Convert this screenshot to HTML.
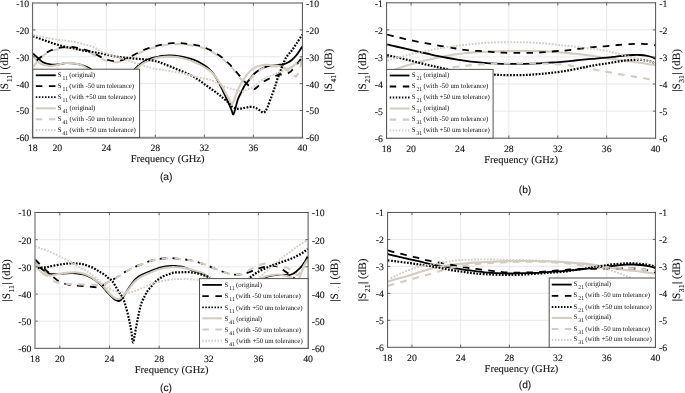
<!DOCTYPE html><html><head><meta charset="utf-8"><style>html,body{margin:0;padding:0;background:#fff;width:685px;height:393px;overflow:hidden}svg{display:block}text{font-family:"Liberation Serif",serif;fill:#111;text-rendering:geometricPrecision;stroke:#111;stroke-width:0.1px}svg{will-change:transform}.sans{font-family:"Liberation Sans",sans-serif}</style></head><body>
<svg width="685" height="393" viewBox="0 0 685 393">
<rect width="685" height="393" fill="#fff"/>
<line x1="57.31" y1="3.00" x2="57.31" y2="137.40" stroke="#e5e5e5" stroke-width="0.9"/>
<line x1="106.33" y1="3.00" x2="106.33" y2="137.40" stroke="#e5e5e5" stroke-width="0.9"/>
<line x1="155.35" y1="3.00" x2="155.35" y2="137.40" stroke="#e5e5e5" stroke-width="0.9"/>
<line x1="204.36" y1="3.00" x2="204.36" y2="137.40" stroke="#e5e5e5" stroke-width="0.9"/>
<line x1="253.38" y1="3.00" x2="253.38" y2="137.40" stroke="#e5e5e5" stroke-width="0.9"/>
<line x1="32.80" y1="110.52" x2="302.40" y2="110.52" stroke="#e5e5e5" stroke-width="0.9"/>
<line x1="32.80" y1="83.64" x2="302.40" y2="83.64" stroke="#e5e5e5" stroke-width="0.9"/>
<line x1="32.80" y1="56.76" x2="302.40" y2="56.76" stroke="#e5e5e5" stroke-width="0.9"/>
<line x1="32.80" y1="29.88" x2="302.40" y2="29.88" stroke="#e5e5e5" stroke-width="0.9"/>
<path d="M33.10,53.70 C33.95,54.47 36.50,56.85 38.20,58.30 C39.90,59.75 41.27,61.38 43.30,62.40 C45.33,63.42 48.02,64.07 50.40,64.40 C52.78,64.73 55.03,64.60 57.60,64.40 C60.17,64.20 63.25,63.37 65.80,63.20 C68.35,63.03 70.35,63.12 72.90,63.40 C75.45,63.68 78.55,64.22 81.10,64.90 C83.65,65.58 86.05,66.48 88.20,67.50 C90.35,68.52 90.03,69.42 94.00,71.00 C97.97,72.58 106.00,76.67 112.00,77.00 C118.00,77.33 126.07,74.45 130.00,73.00 C133.93,71.55 134.10,69.63 135.60,68.30 C137.10,66.97 137.52,66.18 139.00,65.00 C140.48,63.82 142.50,62.32 144.50,61.20 C146.50,60.08 149.07,58.97 151.00,58.30 C152.93,57.63 154.27,57.58 156.10,57.20 C157.93,56.82 159.87,56.28 162.00,56.00 C164.13,55.72 166.73,55.55 168.90,55.50 C171.07,55.45 172.85,55.52 175.00,55.70 C177.15,55.88 179.47,56.17 181.80,56.60 C184.13,57.03 186.60,57.62 189.00,58.30 C191.40,58.98 193.87,59.67 196.20,60.70 C198.53,61.73 200.87,63.15 203.00,64.50 C205.13,65.85 207.17,67.13 209.00,68.80 C210.83,70.47 212.33,72.13 214.00,74.50 C215.67,76.87 217.33,79.92 219.00,83.00 C220.67,86.08 222.42,89.67 224.00,93.00 C225.58,96.33 227.25,100.17 228.50,103.00 C229.75,105.83 230.70,108.08 231.50,110.00 C232.30,111.92 232.63,114.83 233.30,114.50 C233.97,114.17 234.72,110.58 235.50,108.00 C236.28,105.42 237.02,101.67 238.00,99.00 C238.98,96.33 240.23,94.33 241.40,92.00 C242.57,89.67 243.52,87.25 245.00,85.00 C246.48,82.75 248.80,80.33 250.30,78.50 C251.80,76.67 252.65,75.33 254.00,74.00 C255.35,72.67 256.90,71.50 258.40,70.50 C259.90,69.50 261.52,68.67 263.00,68.00 C264.48,67.33 265.92,66.93 267.30,66.50 C268.68,66.07 269.52,65.68 271.30,65.40 C273.08,65.12 276.05,64.95 278.00,64.80 C279.95,64.65 281.42,64.83 283.00,64.50 C284.58,64.17 286.03,63.55 287.50,62.80 C288.97,62.05 290.22,61.38 291.80,60.00 C293.38,58.62 295.25,56.75 297.00,54.50 C298.75,52.25 301.42,47.83 302.30,46.50" fill="none" stroke="#000" stroke-width="1.8"/>
<path d="M33.10,56.20 C33.67,56.83 35.32,58.80 36.50,60.00 C37.68,61.20 38.78,62.52 40.20,63.40 C41.62,64.28 43.30,64.87 45.00,65.30 C46.70,65.73 48.73,65.97 50.40,66.00 C52.07,66.03 53.28,65.85 55.00,65.50 C56.72,65.15 58.87,64.32 60.70,63.90 C62.53,63.48 64.30,63.17 66.00,63.00 C67.70,62.83 69.23,62.80 70.90,62.90 C72.57,63.00 74.32,63.25 76.00,63.60 C77.68,63.95 79.17,64.22 81.00,65.00 C82.83,65.78 84.83,67.13 87.00,68.30 C89.17,69.47 89.83,70.55 94.00,72.00 C98.17,73.45 106.00,76.83 112.00,77.00 C118.00,77.17 126.07,74.25 130.00,73.00 C133.93,71.75 134.10,70.58 135.60,69.50 C137.10,68.42 137.52,67.65 139.00,66.50 C140.48,65.35 142.10,63.85 144.50,62.60 C146.90,61.35 150.82,59.90 153.40,59.00 C155.98,58.10 157.30,57.60 160.00,57.20 C162.70,56.80 166.60,56.58 169.60,56.60 C172.60,56.62 175.32,56.90 178.00,57.30 C180.68,57.70 183.20,58.30 185.70,59.00 C188.20,59.70 190.57,60.52 193.00,61.50 C195.43,62.48 198.30,63.88 200.30,64.90 C202.30,65.92 203.38,66.60 205.00,67.60 C206.62,68.60 208.42,69.58 210.00,70.90 C211.58,72.22 213.03,73.77 214.50,75.50 C215.97,77.23 217.47,79.35 218.80,81.30 C220.13,83.25 221.28,85.08 222.50,87.20 C223.72,89.32 224.93,91.87 226.10,94.00 C227.27,96.13 228.55,98.25 229.50,100.00 C230.45,101.75 230.97,104.67 231.80,104.50 C232.63,104.33 233.63,101.08 234.50,99.00 C235.37,96.92 236.22,93.98 237.00,92.00 C237.78,90.02 238.28,88.93 239.20,87.10 C240.12,85.27 241.28,82.95 242.50,81.00 C243.72,79.05 245.25,77.03 246.50,75.40 C247.75,73.77 248.78,72.42 250.00,71.20 C251.22,69.98 252.30,68.97 253.80,68.10 C255.30,67.23 257.05,66.53 259.00,66.00 C260.95,65.47 262.97,65.03 265.50,64.90 C268.03,64.77 271.95,65.02 274.20,65.20 C276.45,65.38 277.53,65.63 279.00,66.00 C280.47,66.37 281.83,66.98 283.00,67.40 C284.17,67.82 285.03,68.30 286.00,68.50 C286.97,68.70 287.63,69.02 288.80,68.60 C289.97,68.18 291.53,67.05 293.00,66.00 C294.47,64.95 296.05,63.63 297.60,62.30 C299.15,60.97 301.52,58.72 302.30,58.00" fill="none" stroke="#d2cdc4" stroke-width="2.1"/>
<path d="M33.10,66.70 C34.00,65.55 36.58,61.82 38.50,59.80 C40.42,57.78 42.60,56.03 44.60,54.60 C46.60,53.17 48.32,52.10 50.50,51.20 C52.68,50.30 55.53,49.68 57.70,49.20 C59.87,48.72 61.55,48.52 63.50,48.30 C65.45,48.08 67.48,47.83 69.40,47.90 C71.32,47.97 73.05,48.35 75.00,48.70 C76.95,49.05 79.10,49.45 81.10,50.00 C83.10,50.55 85.05,51.28 87.00,52.00 C88.95,52.72 90.97,53.47 92.80,54.30 C94.63,55.13 96.30,56.15 98.00,57.00 C99.70,57.85 101.33,58.68 103.00,59.40 C104.67,60.12 106.00,60.82 108.00,61.30 C110.00,61.78 112.83,62.32 115.00,62.30 C117.17,62.28 119.17,61.67 121.00,61.20 C122.83,60.73 124.33,60.15 126.00,59.50 C127.67,58.85 129.33,58.08 131.00,57.30 C132.67,56.52 134.33,55.63 136.00,54.80 C137.67,53.97 139.33,53.07 141.00,52.30 C142.67,51.53 144.33,50.85 146.00,50.20 C147.67,49.55 149.42,48.88 151.00,48.40 C152.58,47.92 153.83,47.73 155.50,47.30 C157.17,46.87 159.13,46.22 161.00,45.80 C162.87,45.38 164.87,45.07 166.70,44.80 C168.53,44.53 170.05,44.32 172.00,44.20 C173.95,44.08 176.40,44.05 178.40,44.10 C180.40,44.15 182.07,44.33 184.00,44.50 C185.93,44.67 187.92,44.80 190.00,45.10 C192.08,45.40 194.30,45.82 196.50,46.30 C198.70,46.78 200.95,47.23 203.20,48.00 C205.45,48.77 207.80,49.80 210.00,50.90 C212.20,52.00 214.45,53.38 216.40,54.60 C218.35,55.82 220.10,56.97 221.70,58.20 C223.30,59.43 224.55,60.63 226.00,62.00 C227.45,63.37 228.90,64.82 230.40,66.40 C231.90,67.98 233.53,69.73 235.00,71.50 C236.47,73.27 237.95,75.50 239.20,77.00 C240.45,78.50 241.45,79.67 242.50,80.50 C243.55,81.33 244.50,81.83 245.50,82.00 C246.50,82.17 247.50,82.25 248.50,81.50 C249.50,80.75 250.13,79.08 251.50,77.50 C252.87,75.92 254.78,73.52 256.70,72.00 C258.62,70.48 260.57,69.33 263.00,68.40 C265.43,67.47 268.97,66.70 271.30,66.40 C273.63,66.10 275.05,66.35 277.00,66.60 C278.95,66.85 281.25,67.25 283.00,67.90 C284.75,68.55 286.03,69.48 287.50,70.50 C288.97,71.52 290.63,73.08 291.80,74.00 C292.97,74.92 293.72,75.67 294.50,76.00 C295.28,76.33 295.75,76.83 296.50,76.00 C297.25,75.17 298.28,72.83 299.00,71.00 C299.72,69.17 300.25,67.17 300.80,65.00 C301.35,62.83 302.05,59.17 302.30,58.00" fill="none" stroke="#d2cdc4" stroke-width="2.1" stroke-dasharray="6.6,6.2" stroke-dashoffset="0.00"/>
<path d="M33.10,63.40 C33.95,62.72 36.28,60.87 38.20,59.30 C40.12,57.73 42.55,55.47 44.60,54.00 C46.65,52.53 48.32,51.47 50.50,50.50 C52.68,49.53 55.50,48.73 57.70,48.20 C59.90,47.67 61.75,47.52 63.70,47.30 C65.65,47.08 67.52,46.90 69.40,46.90 C71.28,46.90 73.05,47.03 75.00,47.30 C76.95,47.57 79.10,47.98 81.10,48.50 C83.10,49.02 85.05,49.68 87.00,50.40 C88.95,51.12 90.97,51.95 92.80,52.80 C94.63,53.65 96.30,54.63 98.00,55.50 C99.70,56.37 101.33,57.25 103.00,58.00 C104.67,58.75 106.00,59.47 108.00,60.00 C110.00,60.53 112.83,61.12 115.00,61.20 C117.17,61.28 119.17,60.95 121.00,60.50 C122.83,60.05 124.33,59.20 126.00,58.50 C127.67,57.80 129.33,57.08 131.00,56.30 C132.67,55.52 134.33,54.63 136.00,53.80 C137.67,52.97 139.33,52.07 141.00,51.30 C142.67,50.53 144.33,49.85 146.00,49.20 C147.67,48.55 149.42,47.88 151.00,47.40 C152.58,46.92 153.83,46.73 155.50,46.30 C157.17,45.87 159.13,45.22 161.00,44.80 C162.87,44.38 164.87,44.07 166.70,43.80 C168.53,43.53 170.05,43.32 172.00,43.20 C173.95,43.08 176.40,43.05 178.40,43.10 C180.40,43.15 182.07,43.33 184.00,43.50 C185.93,43.67 187.92,43.80 190.00,44.10 C192.08,44.40 194.30,44.82 196.50,45.30 C198.70,45.78 200.95,46.23 203.20,47.00 C205.45,47.77 207.80,48.80 210.00,49.90 C212.20,51.00 214.45,52.38 216.40,53.60 C218.35,54.82 220.10,55.97 221.70,57.20 C223.30,58.43 224.55,59.67 226.00,61.00 C227.45,62.33 228.90,63.65 230.40,65.20 C231.90,66.75 233.53,68.60 235.00,70.30 C236.47,72.00 237.87,73.82 239.20,75.40 C240.53,76.98 241.78,78.45 243.00,79.80 C244.22,81.15 245.33,82.33 246.50,83.50 C247.67,84.67 248.78,85.83 250.00,86.80 C251.22,87.77 252.63,89.23 253.80,89.30 C254.97,89.37 255.78,88.17 257.00,87.20 C258.22,86.23 259.60,84.67 261.10,83.50 C262.60,82.33 264.30,81.18 266.00,80.20 C267.70,79.22 269.63,78.37 271.30,77.60 C272.97,76.83 274.53,76.08 276.00,75.60 C277.47,75.12 278.45,74.97 280.10,74.70 C281.75,74.43 284.42,74.32 285.90,74.00 C287.38,73.68 288.02,73.38 289.00,72.80 C289.98,72.22 290.63,71.72 291.80,70.50 C292.97,69.28 294.55,67.35 296.00,65.50 C297.45,63.65 299.45,60.98 300.50,59.40 C301.55,57.82 302.00,56.57 302.30,56.00" fill="none" stroke="#000" stroke-width="1.8" stroke-dasharray="6.6,6.2" stroke-dashoffset="8.10"/>
<path d="M33.00,36.10 C33.92,36.43 36.57,37.38 38.50,38.10 C40.43,38.82 42.52,39.65 44.60,40.40 C46.68,41.15 48.82,41.87 51.00,42.60 C53.18,43.33 55.28,44.10 57.70,44.80 C60.12,45.50 62.82,46.18 65.50,46.80 C68.18,47.42 71.22,47.97 73.80,48.50 C76.38,49.03 78.57,49.52 81.00,50.00 C83.43,50.48 85.98,50.98 88.40,51.40 C90.82,51.82 93.57,52.20 95.50,52.50 C97.43,52.80 97.77,52.77 100.00,53.20 C102.23,53.63 105.93,54.48 108.90,55.10 C111.87,55.72 114.83,56.45 117.80,56.90 C120.77,57.35 123.73,57.50 126.70,57.80 C129.67,58.10 132.63,58.43 135.60,58.70 C138.57,58.97 141.53,59.07 144.50,59.40 C147.47,59.73 151.02,60.27 153.40,60.70 C155.78,61.13 157.07,61.45 158.80,62.00 C160.53,62.55 161.77,63.20 163.80,64.00 C165.83,64.80 168.57,65.83 171.00,66.80 C173.43,67.77 175.90,68.77 178.40,69.80 C180.90,70.83 183.57,71.88 186.00,73.00 C188.43,74.12 190.67,75.20 193.00,76.50 C195.33,77.80 197.78,79.30 200.00,80.80 C202.22,82.30 204.30,84.05 206.30,85.50 C208.30,86.95 210.05,88.12 212.00,89.50 C213.95,90.88 216.17,92.38 218.00,93.80 C219.83,95.22 221.30,96.55 223.00,98.00 C224.70,99.45 226.60,101.00 228.20,102.50 C229.80,104.00 230.90,105.95 232.60,107.00 C234.30,108.05 236.50,108.63 238.40,108.80 C240.30,108.97 242.07,108.32 244.00,108.00 C245.93,107.68 248.33,107.02 250.00,106.90 C251.67,106.78 252.77,106.98 254.00,107.30 C255.23,107.62 256.32,108.18 257.40,108.80 C258.48,109.42 259.53,110.35 260.50,111.00 C261.47,111.65 262.37,112.70 263.20,112.70 C264.03,112.70 264.77,111.97 265.50,111.00 C266.23,110.03 266.85,108.65 267.60,106.90 C268.35,105.15 269.27,102.45 270.00,100.50 C270.73,98.55 271.33,97.03 272.00,95.20 C272.67,93.37 273.40,91.20 274.00,89.50 C274.60,87.80 275.07,86.62 275.60,85.00 C276.13,83.38 276.55,81.72 277.20,79.80 C277.85,77.88 278.78,75.45 279.50,73.50 C280.22,71.55 280.83,69.85 281.50,68.10 C282.17,66.35 282.77,64.70 283.50,63.00 C284.23,61.30 285.02,59.40 285.90,57.90 C286.78,56.40 287.82,55.23 288.80,54.00 C289.78,52.77 290.52,52.25 291.80,50.50 C293.08,48.75 294.75,46.15 296.50,43.50 C298.25,40.85 301.33,36.08 302.30,34.60" fill="none" stroke="#000" stroke-width="2.2" stroke-dasharray="1.75,1.45"/>
<path d="M33.00,35.30 C34.17,35.50 37.67,36.05 40.00,36.50 C42.33,36.95 44.05,37.47 47.00,38.00 C49.95,38.53 54.53,39.25 57.70,39.70 C60.87,40.15 63.32,40.33 66.00,40.70 C68.68,41.07 71.30,41.43 73.80,41.90 C76.30,42.37 78.57,42.90 81.00,43.50 C83.43,44.10 86.07,44.78 88.40,45.50 C90.73,46.22 93.07,46.87 95.00,47.80 C96.93,48.73 97.68,49.95 100.00,51.10 C102.32,52.25 105.93,53.65 108.90,54.70 C111.87,55.75 114.83,56.52 117.80,57.40 C120.77,58.28 123.73,59.03 126.70,60.00 C129.67,60.97 132.63,62.23 135.60,63.20 C138.57,64.17 141.53,64.92 144.50,65.80 C147.47,66.68 150.18,67.80 153.40,68.50 C156.62,69.20 160.87,69.53 163.80,70.00 C166.73,70.47 168.57,70.87 171.00,71.30 C173.43,71.73 175.90,72.10 178.40,72.60 C180.90,73.10 183.57,73.70 186.00,74.30 C188.43,74.90 190.50,75.58 193.00,76.20 C195.50,76.82 198.17,77.40 201.00,78.00 C203.83,78.60 207.50,79.05 210.00,79.80 C212.50,80.55 214.05,81.52 216.00,82.50 C217.95,83.48 219.78,84.83 221.70,85.70 C223.62,86.57 225.55,87.10 227.50,87.70 C229.45,88.30 231.82,88.83 233.40,89.30 C234.98,89.77 235.90,90.17 237.00,90.50 C238.10,90.83 239.00,91.15 240.00,91.30 C241.00,91.45 242.00,91.62 243.00,91.40 C244.00,91.18 244.83,90.52 246.00,90.00 C247.17,89.48 248.67,88.88 250.00,88.30 C251.33,87.72 252.63,87.47 254.00,86.50 C255.37,85.53 256.70,83.67 258.20,82.50 C259.70,81.33 261.30,80.43 263.00,79.50 C264.70,78.57 266.65,77.72 268.40,76.90 C270.15,76.08 271.80,75.33 273.50,74.60 C275.20,73.87 276.93,73.15 278.60,72.50 C280.27,71.85 281.80,71.30 283.50,70.70 C285.20,70.10 287.22,69.60 288.80,68.90 C290.38,68.20 291.53,67.38 293.00,66.50 C294.47,65.62 296.05,64.55 297.60,63.60 C299.15,62.65 301.52,61.27 302.30,60.80" fill="none" stroke="#d2cdc4" stroke-width="1.9" stroke-dasharray="1.75,1.45"/>
<line x1="57.31" y1="137.40" x2="57.31" y2="134.70" stroke="#555" stroke-width="0.9"/>
<line x1="57.31" y1="3.00" x2="57.31" y2="5.70" stroke="#555" stroke-width="0.9"/>
<line x1="106.33" y1="137.40" x2="106.33" y2="134.70" stroke="#555" stroke-width="0.9"/>
<line x1="106.33" y1="3.00" x2="106.33" y2="5.70" stroke="#555" stroke-width="0.9"/>
<line x1="155.35" y1="137.40" x2="155.35" y2="134.70" stroke="#555" stroke-width="0.9"/>
<line x1="155.35" y1="3.00" x2="155.35" y2="5.70" stroke="#555" stroke-width="0.9"/>
<line x1="204.36" y1="137.40" x2="204.36" y2="134.70" stroke="#555" stroke-width="0.9"/>
<line x1="204.36" y1="3.00" x2="204.36" y2="5.70" stroke="#555" stroke-width="0.9"/>
<line x1="253.38" y1="137.40" x2="253.38" y2="134.70" stroke="#555" stroke-width="0.9"/>
<line x1="253.38" y1="3.00" x2="253.38" y2="5.70" stroke="#555" stroke-width="0.9"/>
<line x1="32.80" y1="110.52" x2="35.50" y2="110.52" stroke="#555" stroke-width="0.9"/>
<line x1="302.40" y1="110.52" x2="299.70" y2="110.52" stroke="#555" stroke-width="0.9"/>
<line x1="32.80" y1="83.64" x2="35.50" y2="83.64" stroke="#555" stroke-width="0.9"/>
<line x1="302.40" y1="83.64" x2="299.70" y2="83.64" stroke="#555" stroke-width="0.9"/>
<line x1="32.80" y1="56.76" x2="35.50" y2="56.76" stroke="#555" stroke-width="0.9"/>
<line x1="302.40" y1="56.76" x2="299.70" y2="56.76" stroke="#555" stroke-width="0.9"/>
<line x1="32.80" y1="29.88" x2="35.50" y2="29.88" stroke="#555" stroke-width="0.9"/>
<line x1="302.40" y1="29.88" x2="299.70" y2="29.88" stroke="#555" stroke-width="0.9"/>
<line x1="32.80" y1="3.00" x2="302.40" y2="3.00" stroke="#505050" stroke-width="1.00" stroke-linecap="square"/>
<line x1="32.80" y1="137.75" x2="302.40" y2="137.75" stroke="#8c8c8c" stroke-width="1.80" stroke-linecap="square"/>
<line x1="32.55" y1="3.00" x2="32.55" y2="137.40" stroke="#6a6a6a" stroke-width="1.20" stroke-linecap="square"/>
<line x1="302.40" y1="3.00" x2="302.40" y2="137.40" stroke="#505050" stroke-width="1.00" stroke-linecap="square"/>
<text x="32.80" y="151.10" font-size="9.8" text-anchor="middle">18</text>
<text x="57.31" y="151.10" font-size="9.8" text-anchor="middle">20</text>
<text x="106.33" y="151.10" font-size="9.8" text-anchor="middle">24</text>
<text x="155.35" y="151.10" font-size="9.8" text-anchor="middle">28</text>
<text x="204.36" y="151.10" font-size="9.8" text-anchor="middle">32</text>
<text x="253.38" y="151.10" font-size="9.8" text-anchor="middle">36</text>
<text x="302.40" y="151.10" font-size="9.8" text-anchor="middle">40</text>
<text x="29.20" y="141.30" font-size="9.8" text-anchor="end">-60</text>
<text x="306.00" y="141.30" font-size="9.8" text-anchor="start">-60</text>
<text x="29.20" y="114.42" font-size="9.8" text-anchor="end">-50</text>
<text x="306.00" y="114.42" font-size="9.8" text-anchor="start">-50</text>
<text x="29.20" y="87.54" font-size="9.8" text-anchor="end">-40</text>
<text x="306.00" y="87.54" font-size="9.8" text-anchor="start">-40</text>
<text x="29.20" y="60.66" font-size="9.8" text-anchor="end">-30</text>
<text x="306.00" y="60.66" font-size="9.8" text-anchor="start">-30</text>
<text x="29.20" y="33.78" font-size="9.8" text-anchor="end">-20</text>
<text x="306.00" y="33.78" font-size="9.8" text-anchor="start">-20</text>
<text x="29.20" y="6.90" font-size="9.8" text-anchor="end">-10</text>
<text x="306.00" y="6.90" font-size="9.8" text-anchor="start">-10</text>
<text x="167.60" y="162.20" font-size="10.5" text-anchor="middle">Frequency (GHz)</text>
<text transform="translate(8.20,70.20) rotate(-90)" font-size="11.2" text-anchor="middle">|S<tspan font-size="7.6" dy="4.0" dx="0.6">11</tspan><tspan dy="-4.0" dx="0.5">| (dB)</tspan></text>
<text transform="translate(331.60,70.20) rotate(-90)" font-size="11.2" text-anchor="middle">|S<tspan font-size="7.6" dy="4.0" dx="0.6">41</tspan><tspan dy="-4.0" dx="0.5">| (dB)</tspan></text>
<rect x="32.80" y="69.20" width="106.80" height="68.20" fill="#fff" stroke="#505050" stroke-width="1"/>
<line x1="35.80" y1="75.30" x2="55.80" y2="75.30" stroke="#000" stroke-width="1.8"/>
<text x="57.80" y="76.80" font-size="6.85" style="stroke:none">S<tspan font-size="5.7" dy="3.0" dx="0.9">11</tspan><tspan dy="-3.0" dx="1.3">(original)</tspan></text>
<line x1="35.80" y1="86.20" x2="55.80" y2="86.20" stroke="#000" stroke-width="1.8" stroke-dasharray="6.5,6.6"/>
<text x="57.80" y="87.70" font-size="6.85" style="stroke:none">S<tspan font-size="5.7" dy="3.0" dx="0.9">11</tspan><tspan dy="-3.0" dx="1.3">(with -50 um tolerance)</tspan></text>
<line x1="35.80" y1="97.20" x2="55.80" y2="97.20" stroke="#000" stroke-width="1.8" stroke-dasharray="1.5,1.55"/>
<text x="57.80" y="98.70" font-size="6.85" style="stroke:none">S<tspan font-size="5.7" dy="3.0" dx="0.9">11</tspan><tspan dy="-3.0" dx="1.3">(with +50 um tolerance)</tspan></text>
<line x1="35.80" y1="108.30" x2="55.80" y2="108.30" stroke="#d2cdc4" stroke-width="2.1"/>
<text x="57.80" y="109.80" font-size="6.85" style="stroke:none">S<tspan font-size="5.7" dy="3.0" dx="0.9">41</tspan><tspan dy="-3.0" dx="1.3">(original)</tspan></text>
<line x1="35.80" y1="119.20" x2="55.80" y2="119.20" stroke="#d2cdc4" stroke-width="2.1" stroke-dasharray="6.5,6.6"/>
<text x="57.80" y="120.70" font-size="6.85" style="stroke:none">S<tspan font-size="5.7" dy="3.0" dx="0.9">41</tspan><tspan dy="-3.0" dx="1.3">(with -50 um tolerance)</tspan></text>
<line x1="35.80" y1="130.10" x2="55.80" y2="130.10" stroke="#d2cdc4" stroke-width="2.1" stroke-dasharray="1.5,1.55"/>
<text x="57.80" y="131.60" font-size="6.85" style="stroke:none">S<tspan font-size="5.7" dy="3.0" dx="0.9">41</tspan><tspan dy="-3.0" dx="1.3">(with +50 um tolerance)</tspan></text>
<line x1="411.05" y1="2.80" x2="411.05" y2="138.20" stroke="#e5e5e5" stroke-width="0.9"/>
<line x1="459.96" y1="2.80" x2="459.96" y2="138.20" stroke="#e5e5e5" stroke-width="0.9"/>
<line x1="508.87" y1="2.80" x2="508.87" y2="138.20" stroke="#e5e5e5" stroke-width="0.9"/>
<line x1="557.78" y1="2.80" x2="557.78" y2="138.20" stroke="#e5e5e5" stroke-width="0.9"/>
<line x1="606.69" y1="2.80" x2="606.69" y2="138.20" stroke="#e5e5e5" stroke-width="0.9"/>
<line x1="386.60" y1="111.12" x2="655.60" y2="111.12" stroke="#e5e5e5" stroke-width="0.9"/>
<line x1="386.60" y1="84.04" x2="655.60" y2="84.04" stroke="#e5e5e5" stroke-width="0.9"/>
<line x1="386.60" y1="56.96" x2="655.60" y2="56.96" stroke="#e5e5e5" stroke-width="0.9"/>
<line x1="386.60" y1="29.88" x2="655.60" y2="29.88" stroke="#e5e5e5" stroke-width="0.9"/>
<path d="M395.00,69.50 C395.60,69.28 396.60,68.87 398.60,68.20 C400.60,67.53 404.08,66.35 407.00,65.50 C409.92,64.65 413.27,63.88 416.10,63.10 C418.93,62.32 421.33,61.50 424.00,60.80 C426.67,60.10 429.43,59.52 432.10,58.90 C434.77,58.28 437.33,57.65 440.00,57.10 C442.67,56.55 445.43,56.07 448.10,55.60 C450.77,55.13 453.30,54.70 456.00,54.30 C458.70,53.90 461.30,53.52 464.30,53.20 C467.30,52.88 469.72,52.68 474.00,52.40 C478.28,52.12 484.23,51.72 490.00,51.50 C495.77,51.28 502.93,51.18 508.60,51.10 C514.27,51.02 518.82,51.00 524.00,51.00 C529.18,51.00 535.03,50.97 539.70,51.10 C544.37,51.23 547.95,51.52 552.00,51.80 C556.05,52.08 560.17,52.47 564.00,52.80 C567.83,53.13 571.35,53.43 575.00,53.80 C578.65,54.17 582.40,54.55 585.90,55.00 C589.40,55.45 592.55,55.97 596.00,56.50 C599.45,57.03 602.93,57.67 606.60,58.20 C610.27,58.73 614.15,59.20 618.00,59.70 C621.85,60.20 625.70,60.65 629.70,61.20 C633.70,61.75 637.68,62.32 642.00,63.00 C646.32,63.68 653.33,64.92 655.60,65.30" fill="none" stroke="#d2cdc4" stroke-width="2.1"/>
<path d="M387.20,44.40 C388.67,44.75 392.97,45.78 396.00,46.50 C399.03,47.22 402.07,47.93 405.40,48.70 C408.73,49.47 412.45,50.30 416.00,51.10 C419.55,51.90 423.20,52.72 426.70,53.50 C430.20,54.28 433.43,55.05 437.00,55.80 C440.57,56.55 444.93,57.40 448.10,58.00 C451.27,58.60 453.30,58.97 456.00,59.40 C458.70,59.83 461.30,60.18 464.30,60.60 C467.30,61.02 470.72,61.52 474.00,61.90 C477.28,62.28 480.33,62.62 484.00,62.90 C487.67,63.18 491.90,63.43 496.00,63.60 C500.10,63.77 503.93,63.87 508.60,63.90 C513.27,63.93 518.82,63.90 524.00,63.80 C529.18,63.70 535.03,63.52 539.70,63.30 C544.37,63.08 547.95,62.78 552.00,62.50 C556.05,62.22 560.17,61.93 564.00,61.60 C567.83,61.27 571.35,60.87 575.00,60.50 C578.65,60.13 582.40,59.72 585.90,59.40 C589.40,59.08 592.55,58.88 596.00,58.60 C599.45,58.32 603.27,58.03 606.60,57.70 C609.93,57.37 612.88,56.97 616.00,56.60 C619.12,56.23 622.47,55.77 625.30,55.50 C628.13,55.23 630.57,55.08 633.00,55.00 C635.43,54.92 637.73,54.90 639.90,55.00 C642.07,55.10 644.05,55.27 646.00,55.60 C647.95,55.93 650.00,56.43 651.60,57.00 C653.20,57.57 654.93,58.67 655.60,59.00" fill="none" stroke="#000" stroke-width="1.8"/>
<path d="M387.20,34.50 C388.67,34.88 392.97,36.03 396.00,36.80 C399.03,37.57 402.07,38.35 405.40,39.10 C408.73,39.85 412.45,40.58 416.00,41.30 C419.55,42.02 423.20,42.73 426.70,43.40 C430.20,44.07 433.43,44.68 437.00,45.30 C440.57,45.92 444.93,46.57 448.10,47.10 C451.27,47.63 453.30,48.03 456.00,48.50 C458.70,48.97 461.30,49.53 464.30,49.90 C467.30,50.27 470.72,50.47 474.00,50.70 C477.28,50.93 480.83,51.07 484.00,51.30 C487.17,51.53 489.80,51.87 493.00,52.10 C496.20,52.33 499.03,52.57 503.20,52.70 C507.37,52.83 513.13,52.88 518.00,52.90 C522.87,52.92 527.90,52.93 532.40,52.80 C536.90,52.67 540.82,52.40 545.00,52.10 C549.18,51.80 554.33,51.25 557.50,51.00 C560.67,50.75 561.08,50.88 564.00,50.60 C566.92,50.32 571.35,49.73 575.00,49.30 C578.65,48.87 582.40,48.42 585.90,48.00 C589.40,47.58 592.55,47.12 596.00,46.80 C599.45,46.48 602.93,46.40 606.60,46.10 C610.27,45.80 614.15,45.33 618.00,45.00 C621.85,44.67 626.70,44.30 629.70,44.10 C632.70,43.90 633.82,43.85 636.00,43.80 C638.18,43.75 640.63,43.72 642.80,43.80 C644.97,43.88 646.87,44.02 649.00,44.30 C651.13,44.58 654.50,45.30 655.60,45.50" fill="none" stroke="#000" stroke-width="1.8" stroke-dasharray="6.6,6.2" stroke-dashoffset="0.00"/>
<path d="M440.00,69.60 C441.00,69.42 443.50,68.93 446.00,68.50 C448.50,68.07 451.95,67.42 455.00,67.00 C458.05,66.58 461.13,66.35 464.30,66.00 C467.47,65.65 469.72,65.23 474.00,64.90 C478.28,64.57 484.23,64.23 490.00,64.00 C495.77,63.77 502.93,63.62 508.60,63.50 C514.27,63.38 518.82,63.32 524.00,63.30 C529.18,63.28 535.03,63.32 539.70,63.40 C544.37,63.48 547.95,63.58 552.00,63.80 C556.05,64.02 560.17,64.28 564.00,64.70 C567.83,65.12 571.35,65.73 575.00,66.30 C578.65,66.87 582.40,67.50 585.90,68.10 C589.40,68.70 592.55,69.28 596.00,69.90 C599.45,70.52 603.27,71.18 606.60,71.80 C609.93,72.42 612.88,73.03 616.00,73.60 C619.12,74.17 622.47,74.73 625.30,75.20 C628.13,75.67 630.57,76.02 633.00,76.40 C635.43,76.78 637.40,77.07 639.90,77.50 C642.40,77.93 645.38,78.50 648.00,79.00 C650.62,79.50 654.33,80.25 655.60,80.50" fill="none" stroke="#d2cdc4" stroke-width="2.1" stroke-dasharray="6.6,6.2" stroke-dashoffset="0.00"/>
<path d="M387.20,55.10 C388.67,55.45 392.97,56.48 396.00,57.20 C399.03,57.92 402.07,58.60 405.40,59.40 C408.73,60.20 412.45,61.12 416.00,62.00 C419.55,62.88 423.53,63.93 426.70,64.70 C429.87,65.47 432.15,65.97 435.00,66.60 C437.85,67.23 440.47,67.77 443.80,68.50 C447.13,69.23 450.63,70.20 455.00,71.00 C459.37,71.80 463.67,72.70 470.00,73.30 C476.33,73.90 487.17,74.30 493.00,74.60 C498.83,74.90 500.87,75.00 505.00,75.10 C509.13,75.20 513.80,75.25 517.80,75.20 C521.80,75.15 525.35,75.00 529.00,74.80 C532.65,74.60 536.20,74.30 539.70,74.00 C543.20,73.70 546.35,73.42 550.00,73.00 C553.65,72.58 557.60,72.10 561.60,71.50 C565.60,70.90 569.95,70.17 574.00,69.40 C578.05,68.63 582.23,67.63 585.90,66.90 C589.57,66.17 592.55,65.57 596.00,65.00 C599.45,64.43 603.27,64.02 606.60,63.50 C609.93,62.98 612.88,62.40 616.00,61.90 C619.12,61.40 622.47,60.83 625.30,60.50 C628.13,60.17 630.57,60.02 633.00,59.90 C635.43,59.78 637.73,59.70 639.90,59.80 C642.07,59.90 644.05,60.13 646.00,60.50 C647.95,60.87 650.00,61.42 651.60,62.00 C653.20,62.58 654.93,63.67 655.60,64.00" fill="none" stroke="#000" stroke-width="2.2" stroke-dasharray="1.75,1.45"/>
<path d="M387.20,60.50 C388.67,60.08 392.97,58.82 396.00,58.00 C399.03,57.18 402.07,56.40 405.40,55.60 C408.73,54.80 412.45,54.00 416.00,53.20 C419.55,52.40 423.20,51.53 426.70,50.80 C430.20,50.07 433.43,49.42 437.00,48.80 C440.57,48.18 444.27,47.65 448.10,47.10 C451.93,46.55 455.68,46.05 460.00,45.50 C464.32,44.95 469.00,44.28 474.00,43.80 C479.00,43.32 484.23,42.87 490.00,42.60 C495.77,42.33 503.60,42.27 508.60,42.20 C513.60,42.13 516.03,42.13 520.00,42.20 C523.97,42.27 528.23,42.38 532.40,42.60 C536.57,42.82 540.82,43.13 545.00,43.50 C549.18,43.87 554.33,44.47 557.50,44.80 C560.67,45.13 561.08,45.20 564.00,45.50 C566.92,45.80 571.35,46.18 575.00,46.60 C578.65,47.02 582.40,47.55 585.90,48.00 C589.40,48.45 592.55,48.82 596.00,49.30 C599.45,49.78 603.60,50.32 606.60,50.90 C609.60,51.48 611.37,52.12 614.00,52.80 C616.63,53.48 619.73,54.32 622.40,55.00 C625.07,55.68 627.57,56.28 630.00,56.90 C632.43,57.52 634.67,58.12 637.00,58.70 C639.33,59.28 641.57,59.80 644.00,60.40 C646.43,61.00 649.67,61.73 651.60,62.30 C653.53,62.87 654.93,63.55 655.60,63.80" fill="none" stroke="#d2cdc4" stroke-width="1.9" stroke-dasharray="1.75,1.45"/>
<line x1="411.05" y1="138.20" x2="411.05" y2="135.50" stroke="#555" stroke-width="0.9"/>
<line x1="411.05" y1="2.80" x2="411.05" y2="5.50" stroke="#555" stroke-width="0.9"/>
<line x1="459.96" y1="138.20" x2="459.96" y2="135.50" stroke="#555" stroke-width="0.9"/>
<line x1="459.96" y1="2.80" x2="459.96" y2="5.50" stroke="#555" stroke-width="0.9"/>
<line x1="508.87" y1="138.20" x2="508.87" y2="135.50" stroke="#555" stroke-width="0.9"/>
<line x1="508.87" y1="2.80" x2="508.87" y2="5.50" stroke="#555" stroke-width="0.9"/>
<line x1="557.78" y1="138.20" x2="557.78" y2="135.50" stroke="#555" stroke-width="0.9"/>
<line x1="557.78" y1="2.80" x2="557.78" y2="5.50" stroke="#555" stroke-width="0.9"/>
<line x1="606.69" y1="138.20" x2="606.69" y2="135.50" stroke="#555" stroke-width="0.9"/>
<line x1="606.69" y1="2.80" x2="606.69" y2="5.50" stroke="#555" stroke-width="0.9"/>
<line x1="386.60" y1="111.12" x2="389.30" y2="111.12" stroke="#555" stroke-width="0.9"/>
<line x1="655.60" y1="111.12" x2="652.90" y2="111.12" stroke="#555" stroke-width="0.9"/>
<line x1="386.60" y1="84.04" x2="389.30" y2="84.04" stroke="#555" stroke-width="0.9"/>
<line x1="655.60" y1="84.04" x2="652.90" y2="84.04" stroke="#555" stroke-width="0.9"/>
<line x1="386.60" y1="56.96" x2="389.30" y2="56.96" stroke="#555" stroke-width="0.9"/>
<line x1="655.60" y1="56.96" x2="652.90" y2="56.96" stroke="#555" stroke-width="0.9"/>
<line x1="386.60" y1="29.88" x2="389.30" y2="29.88" stroke="#555" stroke-width="0.9"/>
<line x1="655.60" y1="29.88" x2="652.90" y2="29.88" stroke="#555" stroke-width="0.9"/>
<line x1="386.60" y1="2.80" x2="655.60" y2="2.80" stroke="#505050" stroke-width="1.00" stroke-linecap="square"/>
<line x1="386.60" y1="138.20" x2="655.60" y2="138.20" stroke="#505050" stroke-width="1.00" stroke-linecap="square"/>
<line x1="386.60" y1="2.80" x2="386.60" y2="138.20" stroke="#505050" stroke-width="1.00" stroke-linecap="square"/>
<line x1="655.60" y1="2.80" x2="655.60" y2="138.20" stroke="#505050" stroke-width="1.00" stroke-linecap="square"/>
<text x="386.60" y="151.90" font-size="9.8" text-anchor="middle">18</text>
<text x="411.05" y="151.90" font-size="9.8" text-anchor="middle">20</text>
<text x="459.96" y="151.90" font-size="9.8" text-anchor="middle">24</text>
<text x="508.87" y="151.90" font-size="9.8" text-anchor="middle">28</text>
<text x="557.78" y="151.90" font-size="9.8" text-anchor="middle">32</text>
<text x="606.69" y="151.90" font-size="9.8" text-anchor="middle">36</text>
<text x="655.60" y="151.90" font-size="9.8" text-anchor="middle">40</text>
<text x="383.00" y="142.10" font-size="9.8" text-anchor="end">-6</text>
<text x="659.20" y="142.10" font-size="9.8" text-anchor="start">-6</text>
<text x="383.00" y="115.02" font-size="9.8" text-anchor="end">-5</text>
<text x="659.20" y="115.02" font-size="9.8" text-anchor="start">-5</text>
<text x="383.00" y="87.94" font-size="9.8" text-anchor="end">-4</text>
<text x="659.20" y="87.94" font-size="9.8" text-anchor="start">-4</text>
<text x="383.00" y="60.86" font-size="9.8" text-anchor="end">-3</text>
<text x="659.20" y="60.86" font-size="9.8" text-anchor="start">-3</text>
<text x="383.00" y="33.78" font-size="9.8" text-anchor="end">-2</text>
<text x="659.20" y="33.78" font-size="9.8" text-anchor="start">-2</text>
<text x="383.00" y="6.70" font-size="9.8" text-anchor="end">-1</text>
<text x="659.20" y="6.70" font-size="9.8" text-anchor="start">-1</text>
<text x="521.10" y="163.00" font-size="10.5" text-anchor="middle">Frequency (GHz)</text>
<text transform="translate(365.60,70.50) rotate(-90)" font-size="11.2" text-anchor="middle">|S<tspan font-size="7.6" dy="4.0" dx="0.6">21</tspan><tspan dy="-4.0" dx="0.5">| (dB)</tspan></text>
<text transform="translate(680.00,70.50) rotate(-90)" font-size="11.2" text-anchor="middle">|S<tspan font-size="7.6" dy="4.0" dx="0.6">31</tspan><tspan dy="-4.0" dx="0.5">| (dB)</tspan></text>
<rect x="386.60" y="69.40" width="106.50" height="68.80" fill="#fff" stroke="#505050" stroke-width="1"/>
<line x1="389.70" y1="75.50" x2="409.50" y2="75.50" stroke="#000" stroke-width="1.8"/>
<text x="411.70" y="77.00" font-size="6.85" style="stroke:none">S<tspan font-size="5.7" dy="3.0" dx="0.9">21</tspan><tspan dy="-3.0" dx="1.3">(original)</tspan></text>
<line x1="389.70" y1="86.50" x2="409.50" y2="86.50" stroke="#000" stroke-width="1.8" stroke-dasharray="6.5,6.6"/>
<text x="411.70" y="88.00" font-size="6.85" style="stroke:none">S<tspan font-size="5.7" dy="3.0" dx="0.9">21</tspan><tspan dy="-3.0" dx="1.3">(with -50 um tolerance)</tspan></text>
<line x1="389.70" y1="97.50" x2="409.50" y2="97.50" stroke="#000" stroke-width="1.8" stroke-dasharray="1.5,1.55"/>
<text x="411.70" y="99.00" font-size="6.85" style="stroke:none">S<tspan font-size="5.7" dy="3.0" dx="0.9">21</tspan><tspan dy="-3.0" dx="1.3">(with +50 um tolerance)</tspan></text>
<line x1="389.70" y1="108.50" x2="409.50" y2="108.50" stroke="#d2cdc4" stroke-width="2.1"/>
<text x="411.70" y="110.00" font-size="6.85" style="stroke:none">S<tspan font-size="5.7" dy="3.0" dx="0.9">31</tspan><tspan dy="-3.0" dx="1.3">(original)</tspan></text>
<line x1="389.70" y1="119.60" x2="409.50" y2="119.60" stroke="#d2cdc4" stroke-width="2.1" stroke-dasharray="6.5,6.6"/>
<text x="411.70" y="121.10" font-size="6.85" style="stroke:none">S<tspan font-size="5.7" dy="3.0" dx="0.9">31</tspan><tspan dy="-3.0" dx="1.3">(with -50 um tolerance)</tspan></text>
<line x1="389.70" y1="130.50" x2="409.50" y2="130.50" stroke="#d2cdc4" stroke-width="2.1" stroke-dasharray="1.5,1.55"/>
<text x="411.70" y="132.00" font-size="6.85" style="stroke:none">S<tspan font-size="5.7" dy="3.0" dx="0.9">31</tspan><tspan dy="-3.0" dx="1.3">(with +50 um tolerance)</tspan></text>
<line x1="59.83" y1="212.50" x2="59.83" y2="348.30" stroke="#e5e5e5" stroke-width="0.9"/>
<line x1="109.48" y1="212.50" x2="109.48" y2="348.30" stroke="#e5e5e5" stroke-width="0.9"/>
<line x1="159.14" y1="212.50" x2="159.14" y2="348.30" stroke="#e5e5e5" stroke-width="0.9"/>
<line x1="208.79" y1="212.50" x2="208.79" y2="348.30" stroke="#e5e5e5" stroke-width="0.9"/>
<line x1="258.45" y1="212.50" x2="258.45" y2="348.30" stroke="#e5e5e5" stroke-width="0.9"/>
<line x1="35.00" y1="321.14" x2="308.10" y2="321.14" stroke="#e5e5e5" stroke-width="0.9"/>
<line x1="35.00" y1="293.98" x2="308.10" y2="293.98" stroke="#e5e5e5" stroke-width="0.9"/>
<line x1="35.00" y1="266.82" x2="308.10" y2="266.82" stroke="#e5e5e5" stroke-width="0.9"/>
<line x1="35.00" y1="239.66" x2="308.10" y2="239.66" stroke="#e5e5e5" stroke-width="0.9"/>
<path d="M35.20,262.10 C35.75,262.75 37.33,264.78 38.50,266.00 C39.67,267.22 40.95,268.35 42.20,269.40 C43.45,270.45 44.78,271.57 46.00,272.30 C47.22,273.03 48.00,273.48 49.50,273.80 C51.00,274.12 53.05,274.20 55.00,274.20 C56.95,274.20 59.20,273.95 61.20,273.80 C63.20,273.65 65.05,273.42 67.00,273.30 C68.95,273.18 71.07,273.07 72.90,273.10 C74.73,273.13 76.30,273.27 78.00,273.50 C79.70,273.73 81.43,274.05 83.10,274.50 C84.77,274.95 86.30,275.47 88.00,276.20 C89.70,276.93 91.63,277.88 93.30,278.90 C94.97,279.92 96.55,281.12 98.00,282.30 C99.45,283.48 100.83,284.80 102.00,286.00 C103.17,287.20 104.00,288.33 105.00,289.50 C106.00,290.67 107.00,291.88 108.00,293.00 C109.00,294.12 110.03,295.25 111.00,296.20 C111.97,297.15 112.97,298.02 113.80,298.70 C114.63,299.38 115.28,299.92 116.00,300.30 C116.72,300.68 117.35,301.00 118.10,301.00 C118.85,301.00 119.62,301.00 120.50,300.30 C121.38,299.60 122.23,298.52 123.40,296.80 C124.57,295.08 125.90,292.47 127.50,290.00 C129.10,287.53 131.25,284.17 133.00,282.00 C134.75,279.83 136.25,278.33 138.00,277.00 C139.75,275.67 141.50,274.95 143.50,274.00 C145.50,273.05 148.00,272.10 150.00,271.30 C152.00,270.50 153.83,269.80 155.50,269.20 C157.17,268.60 158.30,268.17 160.00,267.70 C161.70,267.23 163.87,266.70 165.70,266.40 C167.53,266.10 169.30,265.97 171.00,265.90 C172.70,265.83 174.07,265.87 175.90,266.00 C177.73,266.13 180.05,266.27 182.00,266.70 C183.95,267.13 185.77,267.95 187.60,268.60 C189.43,269.25 190.85,269.87 193.00,270.60 C195.15,271.33 198.50,272.25 200.50,273.00 C202.50,273.75 203.53,274.20 205.00,275.10 C206.47,276.00 207.97,277.25 209.30,278.40 C210.63,279.55 212.38,281.40 213.00,282.00" fill="none" stroke="#000" stroke-width="1.8"/>
<path d="M262.00,281.00 C262.55,280.47 264.20,278.60 265.30,277.80 C266.40,277.00 267.32,276.62 268.60,276.20 C269.88,275.78 271.50,275.53 273.00,275.30 C274.50,275.07 275.93,274.87 277.60,274.80 C279.27,274.73 281.05,274.85 283.00,274.90 C284.95,274.95 287.63,275.30 289.30,275.10 C290.97,274.90 291.87,274.27 293.00,273.70 C294.13,273.13 295.10,272.48 296.10,271.70 C297.10,270.92 298.03,269.97 299.00,269.00 C299.97,268.03 300.90,267.15 301.90,265.90 C302.90,264.65 304.03,263.07 305.00,261.50 C305.97,259.93 307.25,257.33 307.70,256.50" fill="none" stroke="#000" stroke-width="1.8"/>
<path d="M35.20,265.00 C35.67,265.58 37.03,267.37 38.00,268.50 C38.97,269.63 40.00,270.82 41.00,271.80 C42.00,272.78 43.07,273.77 44.00,274.40 C44.93,275.03 45.60,275.42 46.60,275.60 C47.60,275.78 48.60,275.65 50.00,275.50 C51.40,275.35 53.13,275.02 55.00,274.70 C56.87,274.38 59.03,273.95 61.20,273.60 C63.37,273.25 65.57,272.82 68.00,272.60 C70.43,272.38 73.30,272.13 75.80,272.30 C78.30,272.47 80.57,272.87 83.00,273.60 C85.43,274.33 88.23,275.53 90.40,276.70 C92.57,277.87 94.07,279.22 96.00,280.60 C97.93,281.98 100.33,283.52 102.00,285.00 C103.67,286.48 104.67,288.00 106.00,289.50 C107.33,291.00 108.70,292.70 110.00,294.00 C111.30,295.30 112.72,296.52 113.80,297.30 C114.88,298.08 115.65,298.42 116.50,298.70 C117.35,298.98 118.15,299.12 118.90,299.00 C119.65,298.88 120.25,298.50 121.00,298.00 C121.75,297.50 122.23,297.33 123.40,296.00 C124.57,294.67 126.30,292.20 128.00,290.00 C129.70,287.80 131.85,284.75 133.60,282.80 C135.35,280.85 136.80,279.53 138.50,278.30 C140.20,277.07 141.88,276.33 143.80,275.40 C145.72,274.47 148.05,273.52 150.00,272.70 C151.95,271.88 153.83,271.12 155.50,270.50 C157.17,269.88 158.30,269.47 160.00,269.00 C161.70,268.53 163.87,268.00 165.70,267.70 C167.53,267.40 169.30,267.28 171.00,267.20 C172.70,267.12 174.07,267.13 175.90,267.20 C177.73,267.27 180.05,267.37 182.00,267.60 C183.95,267.83 185.77,268.20 187.60,268.60 C189.43,269.00 190.85,269.38 193.00,270.00 C195.15,270.62 198.50,271.57 200.50,272.30 C202.50,273.03 203.53,273.48 205.00,274.40 C206.47,275.32 207.97,276.70 209.30,277.80 C210.63,278.90 212.38,280.47 213.00,281.00" fill="none" stroke="#d2cdc4" stroke-width="2.1"/>
<path d="M258.00,281.00 C258.67,280.50 260.62,278.80 262.00,278.00 C263.38,277.20 264.63,276.70 266.30,276.20 C267.97,275.70 270.08,275.28 272.00,275.00 C273.92,274.72 275.97,274.47 277.80,274.50 C279.63,274.53 281.30,274.87 283.00,275.20 C284.70,275.53 286.50,276.03 288.00,276.50 C289.50,276.97 290.67,277.42 292.00,278.00 C293.33,278.58 295.33,279.67 296.00,280.00" fill="none" stroke="#d2cdc4" stroke-width="2.1"/>
<path d="M297.50,282.00 C297.92,281.00 299.08,278.25 300.00,276.00 C300.92,273.75 302.08,270.67 303.00,268.50 C303.92,266.33 304.72,264.50 305.50,263.00 C306.28,261.50 307.33,260.08 307.70,259.50" fill="none" stroke="#d2cdc4" stroke-width="2.1"/>
<path d="M35.20,259.50 C35.92,260.25 38.08,262.58 39.50,264.00 C40.92,265.42 42.37,266.75 43.70,268.00 C45.03,269.25 46.28,270.32 47.50,271.50 C48.72,272.68 49.83,274.02 51.00,275.10 C52.17,276.18 53.28,277.02 54.50,278.00 C55.72,278.98 56.88,280.13 58.30,281.00 C59.72,281.87 61.30,282.60 63.00,283.20 C64.70,283.80 66.67,284.25 68.50,284.60 C70.33,284.95 72.05,285.10 74.00,285.30 C75.95,285.50 78.03,285.62 80.20,285.80 C82.37,285.98 84.82,286.20 87.00,286.40 C89.18,286.60 91.47,286.85 93.30,287.00 C95.13,287.15 96.63,287.43 98.00,287.30 C99.37,287.17 100.43,286.70 101.50,286.20 C102.57,285.70 103.15,285.08 104.40,284.30 C105.65,283.52 107.30,282.43 109.00,281.50 C110.70,280.57 112.77,279.70 114.60,278.70 C116.43,277.70 118.27,276.62 120.00,275.50 C121.73,274.38 123.17,273.10 125.00,272.00 C126.83,270.90 129.13,269.85 131.00,268.90 C132.87,267.95 134.13,267.15 136.20,266.30 C138.27,265.45 141.27,264.63 143.40,263.80 C145.53,262.97 147.07,261.98 149.00,261.30 C150.93,260.62 152.95,260.13 155.00,259.70 C157.05,259.27 159.13,258.95 161.30,258.70 C163.47,258.45 165.78,258.27 168.00,258.20 C170.22,258.13 172.40,258.15 174.60,258.30 C176.80,258.45 179.03,258.85 181.20,259.10 C183.37,259.35 185.55,259.50 187.60,259.80 C189.65,260.10 191.38,260.37 193.50,260.90 C195.62,261.43 198.13,262.32 200.30,263.00 C202.47,263.68 204.42,264.20 206.50,265.00 C208.58,265.80 210.72,266.93 212.80,267.80 C214.88,268.67 216.97,269.42 219.00,270.20 C221.03,270.98 223.00,271.83 225.00,272.50 C227.00,273.17 229.00,273.83 231.00,274.20 C233.00,274.57 235.00,274.72 237.00,274.70 C239.00,274.68 240.97,274.52 243.00,274.10 C245.03,273.68 247.28,272.88 249.20,272.20 C251.12,271.52 252.78,270.67 254.50,270.00 C256.22,269.33 257.53,268.78 259.50,268.20 C261.47,267.62 264.02,266.88 266.30,266.50 C268.58,266.12 271.42,265.90 273.20,265.90 C274.98,265.90 275.85,266.12 277.00,266.50 C278.15,266.88 278.77,267.40 280.10,268.20 C281.43,269.00 283.28,270.15 285.00,271.30 C286.72,272.45 288.73,273.82 290.40,275.10 C292.07,276.38 293.40,277.85 295.00,279.00 C296.60,280.15 299.17,281.50 300.00,282.00" fill="none" stroke="#000" stroke-width="1.8" stroke-dasharray="6.6,6.2" stroke-dashoffset="0.20"/>
<path d="M35.20,262.50 C35.92,263.25 38.08,265.58 39.50,267.00 C40.92,268.42 42.37,269.67 43.70,271.00 C45.03,272.33 46.05,273.47 47.50,275.00 C48.95,276.53 50.98,279.03 52.40,280.20 C53.82,281.37 54.73,281.53 56.00,282.00 C57.27,282.47 58.40,282.72 60.00,283.00 C61.60,283.28 63.60,283.52 65.60,283.70 C67.60,283.88 69.60,283.98 72.00,284.10 C74.40,284.22 77.33,284.32 80.00,284.40 C82.67,284.48 85.50,284.55 88.00,284.60 C90.50,284.65 92.83,284.62 95.00,284.70 C97.17,284.78 99.43,285.17 101.00,285.10 C102.57,285.03 103.07,284.90 104.40,284.30 C105.73,283.70 107.30,282.43 109.00,281.50 C110.70,280.57 112.77,279.70 114.60,278.70 C116.43,277.70 118.27,276.62 120.00,275.50 C121.73,274.38 123.17,273.10 125.00,272.00 C126.83,270.90 129.13,269.85 131.00,268.90 C132.87,267.95 134.13,267.15 136.20,266.30 C138.27,265.45 141.27,264.63 143.40,263.80 C145.53,262.97 147.07,261.98 149.00,261.30 C150.93,260.62 152.95,260.13 155.00,259.70 C157.05,259.27 159.13,258.95 161.30,258.70 C163.47,258.45 165.78,258.27 168.00,258.20 C170.22,258.13 172.40,258.15 174.60,258.30 C176.80,258.45 179.03,258.85 181.20,259.10 C183.37,259.35 185.55,259.50 187.60,259.80 C189.65,260.10 191.38,260.37 193.50,260.90 C195.62,261.43 198.13,262.32 200.30,263.00 C202.47,263.68 204.42,264.20 206.50,265.00 C208.58,265.80 210.72,266.93 212.80,267.80 C214.88,268.67 216.97,269.42 219.00,270.20 C221.03,270.98 223.00,271.83 225.00,272.50 C227.00,273.17 229.00,273.83 231.00,274.20 C233.00,274.57 235.00,274.72 237.00,274.70 C239.00,274.68 241.25,274.68 243.00,274.10 C244.75,273.52 246.08,272.08 247.50,271.20 C248.92,270.32 249.75,269.75 251.50,268.80 C253.25,267.85 255.72,266.37 258.00,265.50 C260.28,264.63 262.87,263.77 265.20,263.60 C267.53,263.43 269.53,264.10 272.00,264.50 C274.47,264.90 277.32,265.38 280.00,266.00 C282.68,266.62 286.02,267.28 288.10,268.20 C290.18,269.12 290.97,270.35 292.50,271.50 C294.03,272.65 296.05,275.02 297.30,275.10 C298.55,275.18 299.13,273.22 300.00,272.00 C300.87,270.78 301.67,269.13 302.50,267.80 C303.33,266.47 304.13,265.27 305.00,264.00 C305.87,262.73 307.25,260.83 307.70,260.20" fill="none" stroke="#d2cdc4" stroke-width="2.1" stroke-dasharray="6.6,6.2" stroke-dashoffset="0.00"/>
<path d="M37.80,268.00 C38.50,267.93 40.53,267.73 42.00,267.60 C43.47,267.47 44.77,267.50 46.60,267.20 C48.43,266.90 50.57,266.28 53.00,265.80 C55.43,265.32 58.87,264.67 61.20,264.30 C63.53,263.93 65.05,263.77 67.00,263.60 C68.95,263.43 71.07,263.30 72.90,263.30 C74.73,263.30 76.30,263.43 78.00,263.60 C79.70,263.77 81.43,263.92 83.10,264.30 C84.77,264.68 86.30,265.28 88.00,265.90 C89.70,266.52 91.68,267.22 93.30,268.00 C94.92,268.78 96.42,269.83 97.70,270.60 C98.98,271.37 99.78,271.87 101.00,272.60 C102.22,273.33 103.83,274.13 105.00,275.00 C106.17,275.87 106.88,276.90 108.00,277.80 C109.12,278.70 110.57,279.20 111.70,280.40 C112.83,281.60 113.75,283.32 114.80,285.00 C115.85,286.68 116.97,288.83 118.00,290.50 C119.03,292.17 120.15,293.72 121.00,295.00 C121.85,296.28 122.35,296.45 123.10,298.20 C123.85,299.95 124.68,302.73 125.50,305.50 C126.32,308.27 127.28,311.88 128.00,314.80 C128.72,317.72 129.25,320.25 129.80,323.00 C130.35,325.75 130.77,328.05 131.30,331.30 C131.83,334.55 132.47,341.72 133.00,342.50 C133.53,343.28 133.95,338.70 134.50,336.00 C135.05,333.30 135.72,329.38 136.30,326.30 C136.88,323.22 137.45,320.25 138.00,317.50 C138.55,314.75 139.02,312.22 139.60,309.80 C140.18,307.38 140.68,305.20 141.50,303.00 C142.32,300.80 143.50,298.60 144.50,296.60 C145.50,294.60 146.40,292.65 147.50,291.00 C148.60,289.35 149.93,288.10 151.10,286.70 C152.27,285.30 153.28,283.82 154.50,282.60 C155.72,281.38 156.98,280.42 158.40,279.40 C159.82,278.38 161.30,277.35 163.00,276.50 C164.70,275.65 166.77,274.95 168.60,274.30 C170.43,273.65 172.05,272.92 174.00,272.60 C175.95,272.28 178.47,272.48 180.30,272.40 C182.13,272.32 183.30,272.12 185.00,272.10 C186.70,272.08 188.83,272.17 190.50,272.30 C192.17,272.43 193.42,272.62 195.00,272.90 C196.58,273.18 198.33,273.55 200.00,274.00 C201.67,274.45 203.33,275.02 205.00,275.60 C206.67,276.18 209.17,277.18 210.00,277.50" fill="none" stroke="#000" stroke-width="2.2" stroke-dasharray="1.75,1.45"/>
<path d="M245.00,281.50 C245.70,280.97 247.87,279.35 249.20,278.30 C250.53,277.25 251.67,276.18 253.00,275.20 C254.33,274.22 255.62,273.33 257.20,272.40 C258.78,271.47 260.60,270.52 262.50,269.60 C264.40,268.68 266.68,267.72 268.60,266.90 C270.52,266.08 272.08,265.42 274.00,264.70 C275.92,263.98 278.10,263.28 280.10,262.60 C282.10,261.92 284.10,261.28 286.00,260.60 C287.90,259.92 289.83,259.20 291.50,258.50 C293.17,257.80 294.47,257.15 296.00,256.40 C297.53,255.65 299.37,254.77 300.70,254.00 C302.03,253.23 302.83,252.65 304.00,251.80 C305.17,250.95 307.08,249.38 307.70,248.90" fill="none" stroke="#000" stroke-width="2.2" stroke-dasharray="1.75,1.45"/>
<path d="M35.20,246.00 C36.00,246.37 38.10,247.47 40.00,248.20 C41.90,248.93 44.35,249.52 46.60,250.40 C48.85,251.28 51.07,252.40 53.50,253.50 C55.93,254.60 58.70,255.75 61.20,257.00 C63.70,258.25 66.07,259.67 68.50,261.00 C70.93,262.33 73.63,263.78 75.80,265.00 C77.97,266.22 79.55,267.20 81.50,268.30 C83.45,269.40 85.67,270.43 87.50,271.60 C89.33,272.77 90.80,273.97 92.50,275.30 C94.20,276.63 96.28,278.40 97.70,279.60 C99.12,280.80 99.95,281.60 101.00,282.50 C102.05,283.40 102.83,284.08 104.00,285.00 C105.17,285.92 106.67,287.17 108.00,288.00 C109.33,288.83 110.50,289.42 112.00,290.00 C113.50,290.58 115.33,291.12 117.00,291.50 C118.67,291.88 119.88,292.15 122.00,292.30 C124.12,292.45 127.70,292.53 129.70,292.40 C131.70,292.27 132.35,292.05 134.00,291.50 C135.65,290.95 137.77,289.85 139.60,289.10 C141.43,288.35 143.35,287.68 145.00,287.00 C146.65,286.32 148.23,285.53 149.50,285.00 C150.77,284.47 151.35,284.23 152.60,283.80 C153.85,283.37 155.30,282.88 157.00,282.40 C158.70,281.92 160.80,281.33 162.80,280.90 C164.80,280.47 166.82,280.10 169.00,279.80 C171.18,279.50 173.73,279.23 175.90,279.10 C178.07,278.97 180.05,279.00 182.00,279.00 C183.95,279.00 185.68,279.02 187.60,279.10 C189.52,279.18 191.43,279.33 193.50,279.50 C195.57,279.67 198.08,279.85 200.00,280.10 C201.92,280.35 204.17,280.85 205.00,281.00" fill="none" stroke="#d2cdc4" stroke-width="1.9" stroke-dasharray="1.75,1.45"/>
<path d="M255.00,282.00 C255.75,281.23 258.00,278.87 259.50,277.40 C261.00,275.93 262.48,274.53 264.00,273.20 C265.52,271.87 267.10,270.72 268.60,269.40 C270.10,268.08 271.47,266.65 273.00,265.30 C274.53,263.95 276.13,262.65 277.80,261.30 C279.47,259.95 281.28,258.53 283.00,257.20 C284.72,255.87 286.43,254.57 288.10,253.30 C289.77,252.03 291.47,250.73 293.00,249.60 C294.53,248.47 295.80,247.55 297.30,246.50 C298.80,245.45 300.27,244.40 302.00,243.30 C303.73,242.20 306.75,240.47 307.70,239.90" fill="none" stroke="#d2cdc4" stroke-width="1.9" stroke-dasharray="1.75,1.45"/>
<line x1="59.83" y1="348.30" x2="59.83" y2="345.60" stroke="#555" stroke-width="0.9"/>
<line x1="59.83" y1="212.50" x2="59.83" y2="215.20" stroke="#555" stroke-width="0.9"/>
<line x1="109.48" y1="348.30" x2="109.48" y2="345.60" stroke="#555" stroke-width="0.9"/>
<line x1="109.48" y1="212.50" x2="109.48" y2="215.20" stroke="#555" stroke-width="0.9"/>
<line x1="159.14" y1="348.30" x2="159.14" y2="345.60" stroke="#555" stroke-width="0.9"/>
<line x1="159.14" y1="212.50" x2="159.14" y2="215.20" stroke="#555" stroke-width="0.9"/>
<line x1="208.79" y1="348.30" x2="208.79" y2="345.60" stroke="#555" stroke-width="0.9"/>
<line x1="208.79" y1="212.50" x2="208.79" y2="215.20" stroke="#555" stroke-width="0.9"/>
<line x1="258.45" y1="348.30" x2="258.45" y2="345.60" stroke="#555" stroke-width="0.9"/>
<line x1="258.45" y1="212.50" x2="258.45" y2="215.20" stroke="#555" stroke-width="0.9"/>
<line x1="35.00" y1="321.14" x2="37.70" y2="321.14" stroke="#555" stroke-width="0.9"/>
<line x1="308.10" y1="321.14" x2="305.40" y2="321.14" stroke="#555" stroke-width="0.9"/>
<line x1="35.00" y1="293.98" x2="37.70" y2="293.98" stroke="#555" stroke-width="0.9"/>
<line x1="308.10" y1="293.98" x2="305.40" y2="293.98" stroke="#555" stroke-width="0.9"/>
<line x1="35.00" y1="266.82" x2="37.70" y2="266.82" stroke="#555" stroke-width="0.9"/>
<line x1="308.10" y1="266.82" x2="305.40" y2="266.82" stroke="#555" stroke-width="0.9"/>
<line x1="35.00" y1="239.66" x2="37.70" y2="239.66" stroke="#555" stroke-width="0.9"/>
<line x1="308.10" y1="239.66" x2="305.40" y2="239.66" stroke="#555" stroke-width="0.9"/>
<line x1="35.00" y1="212.50" x2="308.10" y2="212.50" stroke="#505050" stroke-width="1.00" stroke-linecap="square"/>
<line x1="35.00" y1="348.30" x2="308.10" y2="348.30" stroke="#505050" stroke-width="1.00" stroke-linecap="square"/>
<line x1="35.00" y1="212.50" x2="35.00" y2="348.30" stroke="#8a8a8a" stroke-width="1.40" stroke-linecap="square"/>
<line x1="308.10" y1="212.50" x2="308.10" y2="348.30" stroke="#505050" stroke-width="1.00" stroke-linecap="square"/>
<text x="35.00" y="362.00" font-size="9.8" text-anchor="middle">18</text>
<text x="59.83" y="362.00" font-size="9.8" text-anchor="middle">20</text>
<text x="109.48" y="362.00" font-size="9.8" text-anchor="middle">24</text>
<text x="159.14" y="362.00" font-size="9.8" text-anchor="middle">28</text>
<text x="208.79" y="362.00" font-size="9.8" text-anchor="middle">32</text>
<text x="258.45" y="362.00" font-size="9.8" text-anchor="middle">36</text>
<text x="308.10" y="362.00" font-size="9.8" text-anchor="middle">40</text>
<text x="31.40" y="352.20" font-size="9.8" text-anchor="end">-60</text>
<text x="311.70" y="352.20" font-size="9.8" text-anchor="start">-60</text>
<text x="31.40" y="325.04" font-size="9.8" text-anchor="end">-50</text>
<text x="311.70" y="325.04" font-size="9.8" text-anchor="start">-50</text>
<text x="31.40" y="297.88" font-size="9.8" text-anchor="end">-40</text>
<text x="311.70" y="297.88" font-size="9.8" text-anchor="start">-40</text>
<text x="31.40" y="270.72" font-size="9.8" text-anchor="end">-30</text>
<text x="311.70" y="270.72" font-size="9.8" text-anchor="start">-30</text>
<text x="31.40" y="243.56" font-size="9.8" text-anchor="end">-20</text>
<text x="311.70" y="243.56" font-size="9.8" text-anchor="start">-20</text>
<text x="31.40" y="216.40" font-size="9.8" text-anchor="end">-10</text>
<text x="311.70" y="216.40" font-size="9.8" text-anchor="start">-10</text>
<text x="171.55" y="373.10" font-size="10.5" text-anchor="middle">Frequency (GHz)</text>
<text transform="translate(9.60,280.40) rotate(-90)" font-size="11.2" text-anchor="middle">|S<tspan font-size="7.6" dy="4.0" dx="0.6">11</tspan><tspan dy="-4.0" dx="0.5">| (dB)</tspan></text>
<text transform="translate(338.30,280.40) rotate(-90)" font-size="11.2" text-anchor="middle">|S<tspan font-size="5.5" dy="0.6" dx="1.9" letter-spacing="2.0">..</tspan><tspan dy="-0.6" dx="0.2">| (dB)</tspan></text>
<rect x="199.50" y="278.60" width="108.60" height="69.70" fill="#fff" stroke="#505050" stroke-width="1"/>
<line x1="202.30" y1="284.90" x2="221.90" y2="284.90" stroke="#000" stroke-width="1.8"/>
<text x="224.60" y="287.20" font-size="6.85" style="stroke:none">S<tspan font-size="5.7" dy="3.0" dx="0.9">11</tspan><tspan dy="-3.0" dx="1.3">(original)</tspan></text>
<line x1="202.30" y1="296.10" x2="221.90" y2="296.10" stroke="#000" stroke-width="1.8" stroke-dasharray="6.5,6.6"/>
<text x="224.60" y="298.40" font-size="6.85" style="stroke:none">S<tspan font-size="5.7" dy="3.0" dx="0.9">11</tspan><tspan dy="-3.0" dx="1.3">(with -50 um tolerance)</tspan></text>
<line x1="202.30" y1="307.30" x2="221.90" y2="307.30" stroke="#000" stroke-width="1.8" stroke-dasharray="1.5,1.55"/>
<text x="224.60" y="309.60" font-size="6.85" style="stroke:none">S<tspan font-size="5.7" dy="3.0" dx="0.9">11</tspan><tspan dy="-3.0" dx="1.3">(with +50 um tolerance)</tspan></text>
<line x1="202.30" y1="318.30" x2="221.90" y2="318.30" stroke="#d2cdc4" stroke-width="2.1"/>
<text x="224.60" y="320.60" font-size="6.85" style="stroke:none">S<tspan font-size="5.7" dy="3.0" dx="0.9">41</tspan><tspan dy="-3.0" dx="1.3">(original)</tspan></text>
<line x1="202.30" y1="329.50" x2="221.90" y2="329.50" stroke="#d2cdc4" stroke-width="2.1" stroke-dasharray="6.5,6.6"/>
<text x="224.60" y="331.80" font-size="6.85" style="stroke:none">S<tspan font-size="5.7" dy="3.0" dx="0.9">41</tspan><tspan dy="-3.0" dx="1.3">(with -50 um tolerance)</tspan></text>
<line x1="202.30" y1="340.70" x2="221.90" y2="340.70" stroke="#d2cdc4" stroke-width="2.1" stroke-dasharray="1.5,1.55"/>
<text x="224.60" y="343.00" font-size="6.85" style="stroke:none">S<tspan font-size="5.7" dy="3.0" dx="0.9">41</tspan><tspan dy="-3.0" dx="1.3">(with +50 um tolerance)</tspan></text>
<line x1="411.95" y1="212.45" x2="411.95" y2="347.30" stroke="#e5e5e5" stroke-width="0.9"/>
<line x1="460.64" y1="212.45" x2="460.64" y2="347.30" stroke="#e5e5e5" stroke-width="0.9"/>
<line x1="509.33" y1="212.45" x2="509.33" y2="347.30" stroke="#e5e5e5" stroke-width="0.9"/>
<line x1="558.02" y1="212.45" x2="558.02" y2="347.30" stroke="#e5e5e5" stroke-width="0.9"/>
<line x1="606.71" y1="212.45" x2="606.71" y2="347.30" stroke="#e5e5e5" stroke-width="0.9"/>
<line x1="387.60" y1="320.33" x2="655.40" y2="320.33" stroke="#e5e5e5" stroke-width="0.9"/>
<line x1="387.60" y1="293.36" x2="655.40" y2="293.36" stroke="#e5e5e5" stroke-width="0.9"/>
<line x1="387.60" y1="266.39" x2="655.40" y2="266.39" stroke="#e5e5e5" stroke-width="0.9"/>
<line x1="387.60" y1="239.42" x2="655.40" y2="239.42" stroke="#e5e5e5" stroke-width="0.9"/>
<path d="M387.90,254.10 C389.08,254.40 392.57,255.30 395.00,255.90 C397.43,256.50 400.00,257.13 402.50,257.70 C405.00,258.27 407.57,258.77 410.00,259.30 C412.43,259.83 414.77,260.35 417.10,260.90 C419.43,261.45 421.57,262.03 424.00,262.60 C426.43,263.17 429.20,263.80 431.70,264.30 C434.20,264.80 436.57,265.18 439.00,265.60 C441.43,266.02 443.88,266.40 446.30,266.80 C448.72,267.20 451.07,267.62 453.50,268.00 C455.93,268.38 458.48,268.73 460.90,269.10 C463.32,269.47 465.57,269.85 468.00,270.20 C470.43,270.55 472.67,270.85 475.50,271.20 C478.33,271.55 481.42,271.98 485.00,272.30 C488.58,272.62 492.90,272.90 497.00,273.10 C501.10,273.30 504.93,273.48 509.60,273.50 C514.27,273.52 519.82,273.35 525.00,273.20 C530.18,273.05 536.20,272.85 540.70,272.60 C545.20,272.35 547.95,271.98 552.00,271.70 C556.05,271.42 561.00,271.22 565.00,270.90 C569.00,270.58 572.35,270.17 576.00,269.80 C579.65,269.43 583.40,269.07 586.90,268.70 C590.40,268.33 593.60,267.97 597.00,267.60 C600.40,267.23 603.97,266.85 607.30,266.50 C610.63,266.15 613.83,265.80 617.00,265.50 C620.17,265.20 623.63,264.87 626.30,264.70 C628.97,264.53 630.57,264.45 633.00,264.50 C635.43,264.55 638.57,264.77 640.90,265.00 C643.23,265.23 645.15,265.57 647.00,265.90 C648.85,266.23 650.60,266.62 652.00,267.00 C653.40,267.38 654.83,268.00 655.40,268.20" fill="none" stroke="#000" stroke-width="1.8"/>
<path d="M387.90,281.60 C389.08,281.25 392.57,280.20 395.00,279.50 C397.43,278.80 400.00,278.12 402.50,277.40 C405.00,276.68 407.57,275.93 410.00,275.20 C412.43,274.47 414.77,273.73 417.10,273.00 C419.43,272.27 421.57,271.53 424.00,270.80 C426.43,270.07 429.20,269.27 431.70,268.60 C434.20,267.93 436.57,267.30 439.00,266.80 C441.43,266.30 443.88,265.97 446.30,265.60 C448.72,265.23 451.07,264.90 453.50,264.60 C455.93,264.30 458.48,264.07 460.90,263.80 C463.32,263.53 465.57,263.22 468.00,263.00 C470.43,262.78 472.67,262.67 475.50,262.50 C478.33,262.33 481.42,262.17 485.00,262.00 C488.58,261.83 492.90,261.65 497.00,261.50 C501.10,261.35 504.93,261.18 509.60,261.10 C514.27,261.02 519.82,260.98 525.00,261.00 C530.18,261.02 536.20,261.12 540.70,261.20 C545.20,261.28 547.95,261.37 552.00,261.50 C556.05,261.63 561.17,261.75 565.00,262.00 C568.83,262.25 571.35,262.68 575.00,263.00 C578.65,263.32 583.23,263.50 586.90,263.90 C590.57,264.30 593.60,264.85 597.00,265.40 C600.40,265.95 603.97,266.63 607.30,267.20 C610.63,267.77 613.83,268.32 617.00,268.80 C620.17,269.28 623.63,269.77 626.30,270.10 C628.97,270.43 630.57,270.55 633.00,270.80 C635.43,271.05 638.40,271.30 640.90,271.60 C643.40,271.90 645.58,272.23 648.00,272.60 C650.42,272.97 654.17,273.60 655.40,273.80" fill="none" stroke="#d2cdc4" stroke-width="2.1"/>
<path d="M387.90,250.40 C389.08,250.72 392.57,251.68 395.00,252.30 C397.43,252.92 400.00,253.48 402.50,254.10 C405.00,254.72 407.57,255.40 410.00,256.00 C412.43,256.60 414.93,257.15 417.10,257.70 C419.27,258.25 421.05,258.80 423.00,259.30 C424.95,259.80 426.88,260.28 428.80,260.70 C430.72,261.12 432.55,261.45 434.50,261.80 C436.45,262.15 438.53,262.45 440.50,262.80 C442.47,263.15 444.35,263.53 446.30,263.90 C448.25,264.27 450.00,264.58 452.20,265.00 C454.40,265.42 457.07,265.95 459.50,266.40 C461.93,266.85 464.55,267.33 466.80,267.70 C469.05,268.07 470.82,268.33 473.00,268.60 C475.18,268.87 477.73,269.03 479.90,269.30 C482.07,269.57 483.90,269.93 486.00,270.20 C488.10,270.47 490.50,270.67 492.50,270.90 C494.50,271.13 496.05,271.37 498.00,271.60 C499.95,271.83 502.03,272.15 504.20,272.30 C506.37,272.45 508.57,272.45 511.00,272.50 C513.43,272.55 516.30,272.60 518.80,272.60 C521.30,272.60 523.57,272.55 526.00,272.50 C528.43,272.45 530.98,272.40 533.40,272.30 C535.82,272.20 538.07,272.07 540.50,271.90 C542.93,271.73 545.58,271.50 548.00,271.30 C550.42,271.10 552.57,270.90 555.00,270.70 C557.43,270.50 560.27,270.30 562.60,270.10 C564.93,269.90 566.93,269.67 569.00,269.50 C571.07,269.33 572.50,269.18 575.00,269.10 C577.50,269.02 580.80,269.03 584.00,269.00 C587.20,268.97 590.20,268.98 594.20,268.90 C598.20,268.82 603.13,268.62 608.00,268.50 C612.87,268.38 619.73,268.23 623.40,268.20 C627.07,268.17 627.57,268.22 630.00,268.30 C632.43,268.38 635.50,268.48 638.00,268.70 C640.50,268.92 642.57,269.12 645.00,269.60 C647.43,270.08 650.87,271.15 652.60,271.60 C654.33,272.05 654.93,272.18 655.40,272.30" fill="none" stroke="#000" stroke-width="1.8" stroke-dasharray="6.6,6.2" stroke-dashoffset="0.00"/>
<path d="M387.90,285.70 C389.08,285.38 392.57,284.47 395.00,283.80 C397.43,283.13 400.00,282.40 402.50,281.70 C405.00,281.00 407.57,280.28 410.00,279.60 C412.43,278.92 414.77,278.27 417.10,277.60 C419.43,276.93 421.57,276.27 424.00,275.60 C426.43,274.93 429.20,274.32 431.70,273.60 C434.20,272.88 436.57,272.03 439.00,271.30 C441.43,270.57 443.88,269.83 446.30,269.20 C448.72,268.57 451.07,268.02 453.50,267.50 C455.93,266.98 458.48,266.52 460.90,266.10 C463.32,265.68 465.57,265.33 468.00,265.00 C470.43,264.67 472.67,264.38 475.50,264.10 C478.33,263.82 481.42,263.55 485.00,263.30 C488.58,263.05 492.90,262.82 497.00,262.60 C501.10,262.38 504.93,262.17 509.60,262.00 C514.27,261.83 519.82,261.63 525.00,261.60 C530.18,261.57 536.20,261.70 540.70,261.80 C545.20,261.90 547.95,261.97 552.00,262.20 C556.05,262.43 561.00,262.80 565.00,263.20 C569.00,263.60 572.35,264.17 576.00,264.60 C579.65,265.03 583.40,265.40 586.90,265.80 C590.40,266.20 593.60,266.70 597.00,267.00 C600.40,267.30 603.97,267.47 607.30,267.60 C610.63,267.73 613.83,267.73 617.00,267.80 C620.17,267.87 623.30,267.87 626.30,268.00 C629.30,268.13 631.88,268.33 635.00,268.60 C638.12,268.87 641.60,269.20 645.00,269.60 C648.40,270.00 653.67,270.77 655.40,271.00" fill="none" stroke="#d2cdc4" stroke-width="2.1" stroke-dasharray="6.6,6.2" stroke-dashoffset="0.00"/>
<path d="M387.90,260.40 C389.08,260.53 392.57,260.90 395.00,261.20 C397.43,261.50 400.00,261.88 402.50,262.20 C405.00,262.52 407.57,262.77 410.00,263.10 C412.43,263.43 414.77,263.85 417.10,264.20 C419.43,264.55 421.57,264.83 424.00,265.20 C426.43,265.57 429.20,265.98 431.70,266.40 C434.20,266.82 436.57,267.23 439.00,267.70 C441.43,268.17 443.88,268.73 446.30,269.20 C448.72,269.67 451.07,270.12 453.50,270.50 C455.93,270.88 458.48,271.15 460.90,271.50 C463.32,271.85 465.57,272.27 468.00,272.60 C470.43,272.93 472.67,273.23 475.50,273.50 C478.33,273.77 481.42,274.00 485.00,274.20 C488.58,274.40 492.90,274.57 497.00,274.70 C501.10,274.83 504.93,275.03 509.60,275.00 C514.27,274.97 519.82,274.77 525.00,274.50 C530.18,274.23 536.20,273.72 540.70,273.40 C545.20,273.08 547.95,272.90 552.00,272.60 C556.05,272.30 561.00,272.05 565.00,271.60 C569.00,271.15 572.35,270.47 576.00,269.90 C579.65,269.33 583.40,268.75 586.90,268.20 C590.40,267.65 593.60,267.13 597.00,266.60 C600.40,266.07 603.97,265.43 607.30,265.00 C610.63,264.57 613.83,264.28 617.00,264.00 C620.17,263.72 623.63,263.42 626.30,263.30 C628.97,263.18 630.57,263.20 633.00,263.30 C635.43,263.40 638.57,263.68 640.90,263.90 C643.23,264.12 645.05,264.28 647.00,264.60 C648.95,264.92 651.20,265.37 652.60,265.80 C654.00,266.23 654.93,266.97 655.40,267.20" fill="none" stroke="#000" stroke-width="2.2" stroke-dasharray="1.75,1.45"/>
<path d="M390.80,278.40 C391.67,277.97 394.05,276.77 396.00,275.80 C397.95,274.83 400.17,273.63 402.50,272.60 C404.83,271.57 407.57,270.48 410.00,269.60 C412.43,268.72 414.77,267.97 417.10,267.30 C419.43,266.63 421.57,266.10 424.00,265.60 C426.43,265.10 429.20,264.73 431.70,264.30 C434.20,263.87 436.57,263.40 439.00,263.00 C441.43,262.60 443.88,262.27 446.30,261.90 C448.72,261.53 451.07,261.10 453.50,260.80 C455.93,260.50 458.48,260.28 460.90,260.10 C463.32,259.92 465.57,259.80 468.00,259.70 C470.43,259.60 472.67,259.55 475.50,259.50 C478.33,259.45 481.42,259.38 485.00,259.40 C488.58,259.42 492.90,259.52 497.00,259.60 C501.10,259.68 504.93,259.80 509.60,259.90 C514.27,260.00 519.82,260.07 525.00,260.20 C530.18,260.33 536.20,260.52 540.70,260.70 C545.20,260.88 547.95,261.02 552.00,261.30 C556.05,261.58 561.00,262.02 565.00,262.40 C569.00,262.78 572.35,263.17 576.00,263.60 C579.65,264.03 583.40,264.45 586.90,265.00 C590.40,265.55 593.60,266.17 597.00,266.90 C600.40,267.63 604.47,268.63 607.30,269.40 C610.13,270.17 611.80,270.77 614.00,271.50 C616.20,272.23 618.50,273.08 620.50,273.80 C622.50,274.52 624.30,275.20 626.00,275.80 C627.70,276.40 629.92,277.13 630.70,277.40" fill="none" stroke="#d2cdc4" stroke-width="1.9" stroke-dasharray="1.75,1.45"/>
<line x1="411.95" y1="347.30" x2="411.95" y2="344.60" stroke="#555" stroke-width="0.9"/>
<line x1="411.95" y1="212.45" x2="411.95" y2="215.15" stroke="#555" stroke-width="0.9"/>
<line x1="460.64" y1="347.30" x2="460.64" y2="344.60" stroke="#555" stroke-width="0.9"/>
<line x1="460.64" y1="212.45" x2="460.64" y2="215.15" stroke="#555" stroke-width="0.9"/>
<line x1="509.33" y1="347.30" x2="509.33" y2="344.60" stroke="#555" stroke-width="0.9"/>
<line x1="509.33" y1="212.45" x2="509.33" y2="215.15" stroke="#555" stroke-width="0.9"/>
<line x1="558.02" y1="347.30" x2="558.02" y2="344.60" stroke="#555" stroke-width="0.9"/>
<line x1="558.02" y1="212.45" x2="558.02" y2="215.15" stroke="#555" stroke-width="0.9"/>
<line x1="606.71" y1="347.30" x2="606.71" y2="344.60" stroke="#555" stroke-width="0.9"/>
<line x1="606.71" y1="212.45" x2="606.71" y2="215.15" stroke="#555" stroke-width="0.9"/>
<line x1="387.60" y1="320.33" x2="390.30" y2="320.33" stroke="#555" stroke-width="0.9"/>
<line x1="655.40" y1="320.33" x2="652.70" y2="320.33" stroke="#555" stroke-width="0.9"/>
<line x1="387.60" y1="293.36" x2="390.30" y2="293.36" stroke="#555" stroke-width="0.9"/>
<line x1="655.40" y1="293.36" x2="652.70" y2="293.36" stroke="#555" stroke-width="0.9"/>
<line x1="387.60" y1="266.39" x2="390.30" y2="266.39" stroke="#555" stroke-width="0.9"/>
<line x1="655.40" y1="266.39" x2="652.70" y2="266.39" stroke="#555" stroke-width="0.9"/>
<line x1="387.60" y1="239.42" x2="390.30" y2="239.42" stroke="#555" stroke-width="0.9"/>
<line x1="655.40" y1="239.42" x2="652.70" y2="239.42" stroke="#555" stroke-width="0.9"/>
<line x1="387.60" y1="212.45" x2="655.40" y2="212.45" stroke="#505050" stroke-width="1.00" stroke-linecap="square"/>
<line x1="387.60" y1="347.30" x2="655.40" y2="347.30" stroke="#505050" stroke-width="1.00" stroke-linecap="square"/>
<line x1="387.60" y1="212.45" x2="387.60" y2="347.30" stroke="#505050" stroke-width="1.00" stroke-linecap="square"/>
<line x1="655.40" y1="212.45" x2="655.40" y2="347.30" stroke="#505050" stroke-width="1.00" stroke-linecap="square"/>
<text x="387.60" y="361.00" font-size="9.8" text-anchor="middle">18</text>
<text x="411.95" y="361.00" font-size="9.8" text-anchor="middle">20</text>
<text x="460.64" y="361.00" font-size="9.8" text-anchor="middle">24</text>
<text x="509.33" y="361.00" font-size="9.8" text-anchor="middle">28</text>
<text x="558.02" y="361.00" font-size="9.8" text-anchor="middle">32</text>
<text x="606.71" y="361.00" font-size="9.8" text-anchor="middle">36</text>
<text x="655.40" y="361.00" font-size="9.8" text-anchor="middle">40</text>
<text x="384.00" y="351.20" font-size="9.8" text-anchor="end">-6</text>
<text x="659.00" y="351.20" font-size="9.8" text-anchor="start">-6</text>
<text x="384.00" y="324.23" font-size="9.8" text-anchor="end">-5</text>
<text x="659.00" y="324.23" font-size="9.8" text-anchor="start">-5</text>
<text x="384.00" y="297.26" font-size="9.8" text-anchor="end">-4</text>
<text x="659.00" y="297.26" font-size="9.8" text-anchor="start">-4</text>
<text x="384.00" y="270.29" font-size="9.8" text-anchor="end">-3</text>
<text x="659.00" y="270.29" font-size="9.8" text-anchor="start">-3</text>
<text x="384.00" y="243.32" font-size="9.8" text-anchor="end">-2</text>
<text x="659.00" y="243.32" font-size="9.8" text-anchor="start">-2</text>
<text x="384.00" y="216.35" font-size="9.8" text-anchor="end">-1</text>
<text x="659.00" y="216.35" font-size="9.8" text-anchor="start">-1</text>
<text x="521.50" y="372.10" font-size="10.5" text-anchor="middle">Frequency (GHz)</text>
<text transform="translate(365.60,279.88) rotate(-90)" font-size="11.2" text-anchor="middle">|S<tspan font-size="7.6" dy="4.0" dx="0.6">21</tspan><tspan dy="-4.0" dx="0.5">| (dB)</tspan></text>
<text transform="translate(679.80,279.88) rotate(-90)" font-size="11.2" text-anchor="middle">|S<tspan font-size="7.6" dy="4.0" dx="0.6">31</tspan><tspan dy="-4.0" dx="0.5">| (dB)</tspan></text>
<rect x="549.20" y="278.00" width="106.20" height="69.30" fill="#fff" stroke="#505050" stroke-width="1"/>
<line x1="551.80" y1="284.60" x2="571.70" y2="284.60" stroke="#000" stroke-width="1.8"/>
<text x="573.60" y="286.10" font-size="6.85" style="stroke:none">S<tspan font-size="5.7" dy="3.0" dx="0.9">21</tspan><tspan dy="-3.0" dx="1.3">(original)</tspan></text>
<line x1="551.80" y1="295.80" x2="571.70" y2="295.80" stroke="#000" stroke-width="1.8" stroke-dasharray="6.5,6.6"/>
<text x="573.60" y="297.30" font-size="6.85" style="stroke:none">S<tspan font-size="5.7" dy="3.0" dx="0.9">21</tspan><tspan dy="-3.0" dx="1.3">(with -50 um tolerance)</tspan></text>
<line x1="551.80" y1="307.00" x2="571.70" y2="307.00" stroke="#000" stroke-width="1.8" stroke-dasharray="1.5,1.55"/>
<text x="573.60" y="308.50" font-size="6.85" style="stroke:none">S<tspan font-size="5.7" dy="3.0" dx="0.9">21</tspan><tspan dy="-3.0" dx="1.3">(with +50 um tolerance)</tspan></text>
<line x1="551.80" y1="317.90" x2="571.70" y2="317.90" stroke="#d2cdc4" stroke-width="2.1"/>
<text x="573.60" y="319.40" font-size="6.85" style="stroke:none">S<tspan font-size="5.7" dy="3.0" dx="0.9">31</tspan><tspan dy="-3.0" dx="1.3">(original)</tspan></text>
<line x1="551.80" y1="329.00" x2="571.70" y2="329.00" stroke="#d2cdc4" stroke-width="2.1" stroke-dasharray="6.5,6.6"/>
<text x="573.60" y="330.50" font-size="6.85" style="stroke:none">S<tspan font-size="5.7" dy="3.0" dx="0.9">31</tspan><tspan dy="-3.0" dx="1.3">(with -50 um tolerance)</tspan></text>
<line x1="551.80" y1="339.90" x2="571.70" y2="339.90" stroke="#d2cdc4" stroke-width="2.1" stroke-dasharray="1.5,1.55"/>
<text x="573.60" y="341.40" font-size="6.85" style="stroke:none">S<tspan font-size="5.7" dy="3.0" dx="0.9">31</tspan><tspan dy="-3.0" dx="1.3">(with +50 um tolerance)</tspan></text>
<text class="sans" x="166.2" y="180.2" font-size="10.3" text-anchor="middle" style="font-family:'Liberation Sans',sans-serif">(a)</text>
<text class="sans" x="525.0" y="193.4" font-size="10.3" text-anchor="middle" style="font-family:'Liberation Sans',sans-serif">(b)</text>
<text class="sans" x="166.0" y="390.5" font-size="10.3" text-anchor="middle" style="font-family:'Liberation Sans',sans-serif">(c)</text>
<text class="sans" x="525.0" y="387.5" font-size="10.3" text-anchor="middle" style="font-family:'Liberation Sans',sans-serif">(d)</text>
</svg></body></html>
